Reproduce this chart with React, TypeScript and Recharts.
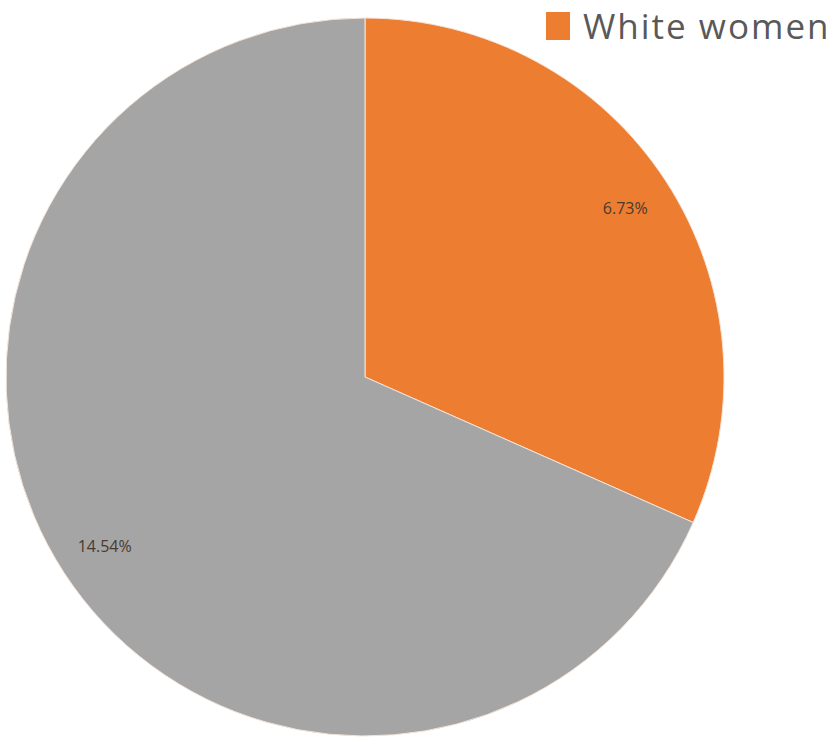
import React from "react";
import { PieChart, Pie, Cell, Legend } from "recharts";

const categories = ["White women", "Others"];
const values = [6.73, 14.54];
const colors = ["#ED7D31", "#A5A5A5"];
const legendShown = ["White women"];

const data = categories.map((name, i) => ({ name, value: values[i] }));

const RAD = Math.PI / 180;

const renderLabel = (props: any) => {
  const { cx, cy, midAngle, outerRadius, value } = props;
  const r = outerRadius * 0.865;
  const x = cx + r * Math.cos(-midAngle * RAD);
  const y = cy + r * Math.sin(-midAngle * RAD);
  return (
    <text
      x={x}
      y={y}
      fill="#4a3a30"
      fontSize={16}
      fontFamily="'Open Sans', sans-serif"
      textAnchor="middle"
      dominantBaseline="central"
    >
      {value.toFixed(2)}%
    </text>
  );
};

const renderLegend = () => (
  <div style={{ display: "flex", alignItems: "center" }}>
    {legendShown.map((name) => {
      const idx = categories.indexOf(name);
      return (
        <div key={name} style={{ display: "flex", alignItems: "center" }}>
          <div style={{ width: 24, height: 28, background: colors[idx], marginRight: 13 }} />
          <span
            style={{
              fontFamily: "'Open Sans', sans-serif",
              fontSize: 35,
              letterSpacing: 2,
              color: "#595959",
              lineHeight: "36px",
              whiteSpace: "nowrap",
            }}
          >
            {name}
          </span>
        </div>
      );
    })}
  </div>
);

export default function App() {
  return (
    <div style={{ position: "absolute", left: 0, top: 0, width: 836, height: 746, background: "#fff" }}>
      <PieChart width={836} height={746} margin={{ top: 0, right: 0, bottom: 0, left: 0 }}>
        <Pie
          data={data}
          dataKey="value"
          nameKey="name"
          cx={365}
          cy={377}
          outerRadius={359}
          startAngle={90}
          endAngle={-270}
          stroke="#f4e4d8"
          strokeWidth={1}
          label={renderLabel}
          labelLine={false}
          isAnimationActive={false}
        >
          {data.map((d, i) => (
            <Cell key={d.name} fill={colors[i]} />
          ))}
        </Pie>
        <Legend
          content={renderLegend}
          wrapperStyle={{ position: "absolute", left: 546, top: 8, width: 300 }}
        />
      </PieChart>
    </div>
  );
}
